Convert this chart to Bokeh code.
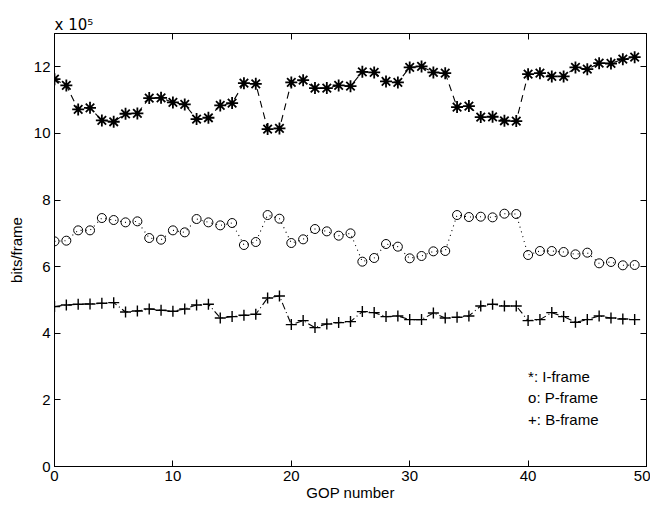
from bokeh.plotting import figure
from bokeh.models import Range1d, LinearAxis, Label, FixedTicker
from bokeh.embed import file_html
from bokeh.resources import INLINE

gop = list(range(50))
i_frame = [11.63, 11.44, 10.72, 10.77, 10.39, 10.35, 10.59, 10.60, 11.06, 11.07,
           10.93, 10.87, 10.43, 10.47, 10.84, 10.91, 11.51, 11.49, 10.13, 10.15,
           11.53, 11.60, 11.36, 11.36, 11.44, 11.42, 11.85, 11.83, 11.56, 11.53,
           11.98, 12.01, 11.83, 11.81, 10.79, 10.82, 10.49, 10.50, 10.38, 10.37,
           11.78, 11.81, 11.71, 11.71, 11.98, 11.93, 12.11, 12.10, 12.23, 12.29]
p_frame = [6.76, 6.78, 7.09, 7.09, 7.46, 7.40, 7.33, 7.36, 6.86, 6.81,
           7.09, 7.03, 7.43, 7.33, 7.24, 7.31, 6.65, 6.74, 7.55, 7.44,
           6.71, 6.82, 7.13, 7.06, 6.93, 7.00, 6.15, 6.26, 6.68, 6.60,
           6.25, 6.32, 6.46, 6.47, 7.55, 7.49, 7.50, 7.48, 7.59, 7.58,
           6.35, 6.47, 6.47, 6.44, 6.37, 6.42, 6.10, 6.14, 6.04, 6.05]
b_frame = [4.80, 4.85, 4.87, 4.88, 4.90, 4.92, 4.64, 4.67, 4.73, 4.69,
           4.66, 4.73, 4.85, 4.87, 4.46, 4.50, 4.54, 4.57, 5.06, 5.12,
           4.26, 4.38, 4.17, 4.28, 4.32, 4.35, 4.65, 4.62, 4.50, 4.52,
           4.41, 4.41, 4.61, 4.46, 4.48, 4.52, 4.82, 4.87, 4.82, 4.82,
           4.38, 4.41, 4.62, 4.50, 4.33, 4.41, 4.52, 4.46, 4.43, 4.41]
x_ticks = [0, 10, 20, 30, 40, 50]
y_ticks = [0, 2, 4, 6, 8, 10, 12]
legend_lines = ["*: I-frame", "o: P-frame", "+: B-frame"]
legend_y = [2.7, 2.07, 1.41]
exponent_text = "x 10\u2075"

FONT = "Liberation Sans"

p = figure(frame_width=592, frame_height=433, output_backend="svg",
           toolbar_location=None, x_range=Range1d(0, 50), y_range=Range1d(0, 13),
           min_border_left=54, min_border_top=33, min_border_right=4,
           min_border_bottom=38, title=exponent_text)
p.title.text_font = "DejaVu Sans"
p.title.text_font_size = "15px"
p.title.text_font_style = "normal"
p.title.text_color = "black"
p.title.align = "left"
p.title.standoff = 0
p.xgrid.visible = False
p.ygrid.visible = False
p.outline_line_color = "black"
p.outline_line_width = 1
p.background_fill_color = "white"
p.border_fill_color = "white"

for ax in (p.xaxis[0], p.yaxis[0]):
    ax.major_tick_in = 6
    ax.major_tick_out = 0
    ax.minor_tick_line_color = None
    ax.axis_line_color = "black"
    ax.major_label_text_font = FONT
    ax.major_label_text_font_size = "15px"
    ax.major_label_text_color = "black"
    ax.axis_label_text_font = FONT
    ax.axis_label_text_font_size = "15px"
    ax.axis_label_text_font_style = "normal"
    ax.axis_label_text_color = "black"
p.xaxis[0].ticker = FixedTicker(ticks=x_ticks)
p.yaxis[0].ticker = FixedTicker(ticks=y_ticks)
p.xaxis[0].axis_label = "GOP number"
p.yaxis[0].axis_label = "bits/frame"
p.xaxis[0].axis_label_standoff = 0
p.yaxis[0].axis_label_standoff = 6
p.xaxis[0].major_label_standoff = 4
p.yaxis[0].major_label_standoff = 4

top = LinearAxis(ticker=FixedTicker(ticks=x_ticks), major_tick_in=6, major_tick_out=0,
                 minor_tick_line_color=None, major_label_text_font_size="1px",
                 major_label_text_color=None,
                 major_label_standoff=0, axis_line_color="black")
right = LinearAxis(ticker=FixedTicker(ticks=y_ticks), major_tick_in=6, major_tick_out=0,
                   minor_tick_line_color=None, major_label_text_font_size="1px",
                   major_label_text_color=None,
                   major_label_standoff=0, axis_line_color="black")
p.add_layout(top, "above")
p.add_layout(right, "right")

# I-frame
p.line(gop, i_frame, line_color="black", line_width=1.1, line_dash="7 5")
p.scatter(gop, i_frame, marker="asterisk", size=12, line_color="black", line_width=1.8)
# P-frame
p.line(gop, p_frame, line_color="black", line_width=1.1, line_dash="1 4")
p.scatter(gop, p_frame, marker="circle", size=9, line_color="black",
          fill_color=None, line_width=1)
# B-frame
p.line(gop, b_frame, line_color="black", line_width=1.1, line_dash="7 3 1 3")
p.scatter(gop, b_frame, marker="cross", size=11, line_color="black", line_width=1.4)

for t, yy in zip(legend_lines, legend_y):
    p.add_layout(Label(x=40, y=yy, text=t, text_font=FONT, text_font_size="15px",
                       text_color="black", text_baseline="middle"))

open("out.html", "w").write(file_html(p, INLINE))
